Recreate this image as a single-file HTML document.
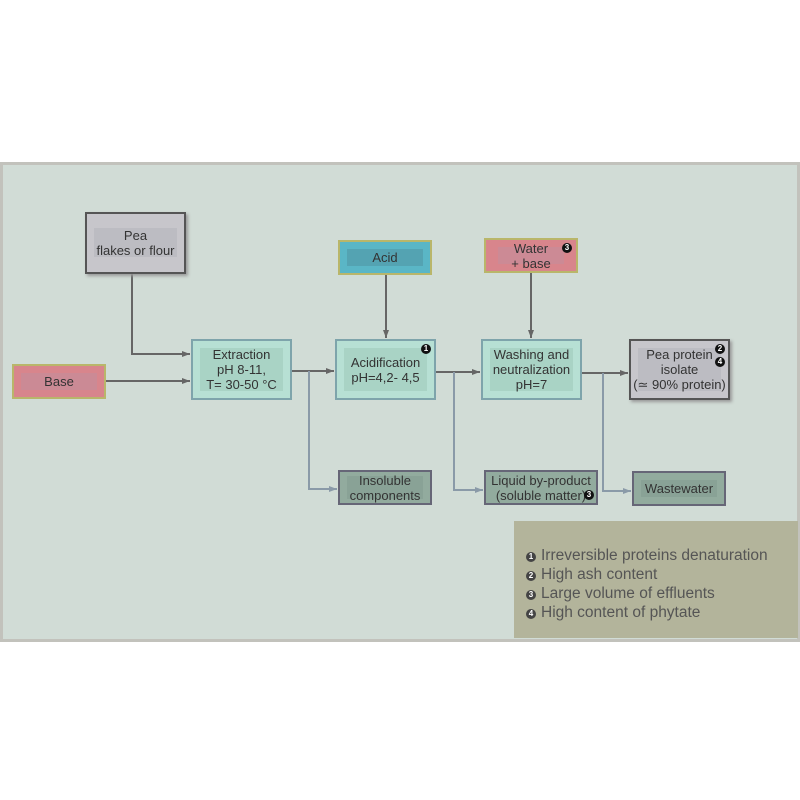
<!DOCTYPE html>
<html><head><style>
body{margin:0;width:800px;height:800px;background:#fff;position:relative;font-family:"Liberation Sans",sans-serif;overflow:hidden}
.panel{position:absolute;left:0;top:162px;width:794px;height:474px;background:#d1dcd6;border:3px solid #c2c2bc}
.b{position:absolute;box-sizing:border-box;display:flex;align-items:center;justify-content:center;text-align:center;font-size:13px;line-height:15px;color:#333}
.b i{position:absolute;left:7px;right:7px;top:7px;bottom:7px;display:block}
.b span{position:relative}
.n{display:inline-block;width:10px;height:10px;border-radius:50%;background:#111;color:#fff;font-size:8px;line-height:10px;text-align:center;font-style:normal;font-weight:bold}
.leg{position:absolute;left:514px;top:521px;width:284px;height:117px;background:#b3b49b;color:#555;font-size:15.5px;line-height:19px;padding:25px 0 0 12px;box-sizing:border-box}
.leg .n{background:#444;margin-right:5px;vertical-align:1px}
</style></head><body>
<div class="panel"></div>
<svg width="800" height="800" style="position:absolute;left:0;top:0">
<defs><marker id="a" markerUnits="userSpaceOnUse" markerWidth="10" markerHeight="10" refX="8" refY="5" orient="auto"><path d="M0,2 L8,5 L0,8z" fill="#666"/></marker>
<marker id="c" markerUnits="userSpaceOnUse" markerWidth="10" markerHeight="10" refX="8" refY="5" orient="auto"><path d="M0,2 L8,5 L0,8z" fill="#8a9aa8"/></marker></defs>
<g fill="none" stroke="#666" stroke-width="2">
<path d="M132 274V354H190" marker-end="url(#a)"/>
<path d="M106 381H190" marker-end="url(#a)"/>
<path d="M292 371H334" marker-end="url(#a)"/>
<path d="M386 275V338" marker-end="url(#a)"/>
<path d="M436 372H480" marker-end="url(#a)"/>
<path d="M531 273V338" marker-end="url(#a)"/>
<path d="M582 373H628" marker-end="url(#a)"/>
</g>
<g fill="none" stroke="#8a9aa8" stroke-width="2">
<path d="M309 371V489H337" marker-end="url(#c)"/>
<path d="M454 372V490H483" marker-end="url(#c)"/>
<path d="M603 373V491H631" marker-end="url(#c)"/>
</g>
</svg>
<div class="b" style="left:85px;top:212px;width:101px;height:62px;background:#c7c6cb;border:2px solid #555;box-shadow:2px 2px 3px #999"><i style="background:#bcbcc2;top:14px;bottom:15px"></i><span>Pea<br>flakes or flour</span></div>
<div class="b" style="left:338px;top:240px;width:94px;height:35px;background:#5ab6c6;border:2px solid #b9b66a"><i style="background:#54a3b2"></i><span>Acid</span></div>
<div class="b" style="left:484px;top:238px;width:94px;height:35px;background:#d8858c;border:2px solid #b9b66a"><i style="background:#cc8a95;left:12px;right:12px"></i><span>Water<br>+ base</span><em class="n" style="position:absolute;right:4px;top:3px">3</em></div>
<div class="b" style="left:12px;top:364px;width:94px;height:35px;background:#d8858c;border:2px solid #b9b66a"><i style="background:#cb8a95"></i><span>Base</span></div>
<div class="b" style="left:191px;top:339px;width:101px;height:61px;background:#b7e0d4;border:2px solid #7ea4ab"><i style="background:#a9d3c5"></i><span>Extraction<br>pH 8-11,<br>T= 30-50 °C</span></div>
<div class="b" style="left:335px;top:339px;width:101px;height:61px;background:#b7e0d4;border:2px solid #7ea4ab"><i style="background:#a9d3c5"></i><span>Acidification<br>pH=4,2- 4,5</span><em class="n" style="position:absolute;right:3px;top:3px">1</em></div>
<div class="b" style="left:481px;top:339px;width:101px;height:61px;background:#b7e0d4;border:2px solid #7ea4ab"><i style="background:#a9d3c5"></i><span>Washing and<br>neutralization<br>pH=7</span></div>
<div class="b" style="left:629px;top:339px;width:101px;height:61px;background:#c7c6cb;border:2px solid #555;box-shadow:2px 2px 3px #999"><i style="background:#bcbcc2"></i><span>Pea protein<br>isolate<br>(≃ 90% protein)</span><em class="n" style="position:absolute;right:3px;top:3px">2</em><em class="n" style="position:absolute;right:3px;top:16px">4</em></div>
<div class="b" style="left:338px;top:470px;width:94px;height:35px;background:#92ab9e;border:2px solid #667"><i style="background:#89a296;top:4px;bottom:4px"></i><span>Insoluble<br>components</span></div>
<div class="b" style="left:484px;top:470px;width:114px;height:35px;background:#92ab9e;border:2px solid #667"><span>Liquid by-product<br>(soluble matter)</span><em class="n" style="position:absolute;right:2px;bottom:3px">3</em></div>
<div class="b" style="left:632px;top:471px;width:94px;height:35px;background:#92ab9e;border:2px solid #667"><i style="background:#89a296"></i><span>Wastewater</span></div>
<div class="leg">
<div><em class="n">1</em>Irreversible proteins denaturation</div>
<div><em class="n">2</em>High ash content</div>
<div><em class="n">3</em>Large volume of effluents</div>
<div><em class="n">4</em>High content of phytate</div>
</div>
</body></html>
